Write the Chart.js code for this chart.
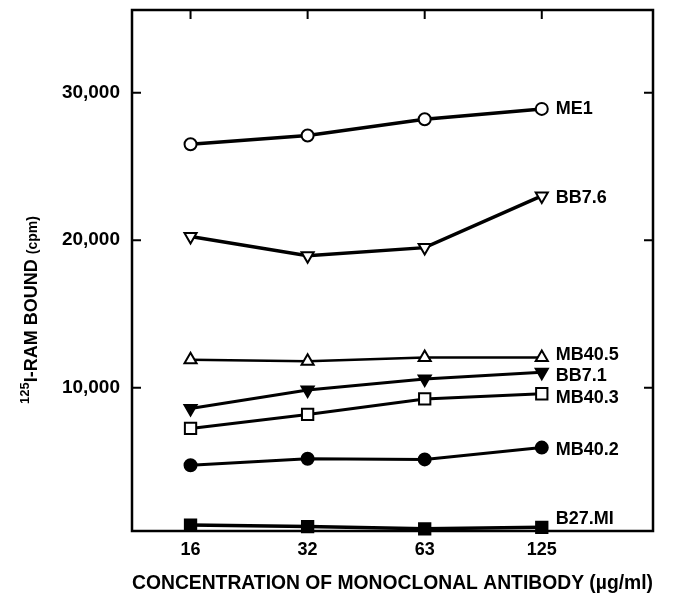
<!DOCTYPE html>
<html lang="en">
<head>
<meta charset="UTF-8">
<title>125I-RAM bound vs monoclonal antibody concentration</title>
<script src="https://cdn.jsdelivr.net/npm/chart.js"></script>
<style>
    body { margin: 0; background: #fff; }
    #wrap { width: 674px; height: 597px; }
</style>
</head>
<body>
<div id="wrap"><canvas id="chart" width="674" height="597"></canvas></div>
<script>
    // concentrations of monoclonal antibody (ug/ml)
    const concentrations = ['16', '32', '63', '125'];
    const yTicks = [10000, 20000, 30000];

    // 125I-RAM bound (cpm)
    const me1 = [26500, 27100, 28200, 28900];
    const bb76 = [20250, 18950, 19500, 23000];
    const mb405 = [11900, 11800, 12050, 12050];
    const bb71 = [8600, 9850, 10600, 11050];
    const mb403 = [7250, 8200, 9250, 9600];
    const mb402 = [4750, 5200, 5150, 5950];
    const b27mi = [700, 600, 450, 550];

    const seriesNames = ['ME1', 'BB7.6', 'MB40.5', 'BB7.1', 'MB40.3', 'MB40.2', 'B27.MI'];

    const FONT = '"Liberation Sans", Arial, sans-serif';

    function pts(arr) {
        return arr.map((v, i) => ({ x: i, y: v }));
    }

    function series(name, arr, shape, filled, rot, size, lw) {
        return {
            label: name,
            data: pts(arr),
            borderColor: '#000',
            borderWidth: lw,
            pointStyle: shape,
            pointRotation: rot,
            pointRadius: size,
            pointBorderWidth: 2,
            pointBorderColor: '#000',
            pointBackgroundColor: filled ? '#000' : '#fff',
            tension: 0,
            clip: false
        };
    }

    // small vertical nudges for the end labels
    const labelNudge = { 'ME1': 0, 'BB7.6': 2, 'MB40.5': -3, 'BB7.1': 4, 'MB40.3': 4, 'MB40.2': 2, 'B27.MI': -8 };

    const endLabels = {
        id: 'endLabels',
        afterDatasetsDraw(chart) {
            const ctx = chart.ctx;
            ctx.save();
            ctx.fillStyle = '#000';
            ctx.font = 'bold 18px ' + FONT;
            ctx.textBaseline = 'middle';
            chart.data.datasets.forEach((ds, i) => {
                const meta = chart.getDatasetMeta(i);
                const last = meta.data[meta.data.length - 1];
                ctx.fillText(ds.label, last.x + 14, last.y + (labelNudge[ds.label] || 0));
            });
            ctx.restore();
        }
    };

    const frame = {
        id: 'frame',
        afterDatasetsDraw(chart) {
            const ctx = chart.ctx;
            const a = chart.chartArea;
            const xs = chart.scales.x, ys = chart.scales.y;
            ctx.save();
            ctx.strokeStyle = '#000';
            ctx.lineWidth = 2.5;
            ctx.strokeRect(a.left, a.top, a.right - a.left, a.bottom - a.top);
            ctx.lineWidth = 2;
            ctx.beginPath();
            yTicks.forEach(v => {
                const y = ys.getPixelForValue(v);
                ctx.moveTo(a.left, y); ctx.lineTo(a.left + 9, y);
                ctx.moveTo(a.right, y); ctx.lineTo(a.right - 9, y);
            });
            concentrations.forEach((c, i) => {
                const x = xs.getPixelForValue(i);
                ctx.moveTo(x, a.top); ctx.lineTo(x, a.top + 9);
            });
            ctx.stroke();
            ctx.restore();
        }
    };

    const yTitle = {
        id: 'yTitle',
        afterDraw(chart) {
            const ctx = chart.ctx;
            const parts = [
                { t: '125', f: 'bold 13px ' + FONT, dy: -8 },
                { t: 'I-RAM BOUND ', f: 'bold 18px ' + FONT, dy: 0 },
                { t: '(cpm)', f: 'bold 14px ' + FONT, dy: 0 }
            ];
            ctx.save();
            let total = 0;
            parts.forEach(p => { ctx.font = p.f; p.w = ctx.measureText(p.t).width; total += p.w; });
            ctx.translate(37, 310);
            ctx.rotate(-Math.PI / 2);
            ctx.fillStyle = '#000';
            let x = -total / 2;
            parts.forEach(p => {
                ctx.font = p.f;
                ctx.fillText(p.t, x, p.dy);
                x += p.w;
            });
            ctx.restore();
        }
    };

    new Chart(document.getElementById('chart'), {
        type: 'line',
        data: {
            datasets: [
                series(seriesNames[0], me1, 'circle', false, 0, 6, 3.5),
                series(seriesNames[1], bb76, 'triangle', false, 180, 7, 3.5),
                series(seriesNames[2], mb405, 'triangle', false, 0, 7, 2.5),
                series(seriesNames[3], bb71, 'triangle', true, 180, 7, 3),
                series(seriesNames[4], mb403, 'rect', false, 0, 8, 3),
                series(seriesNames[5], mb402, 'circle', true, 0, 6, 3),
                series(seriesNames[6], b27mi, 'rect', true, 0, 8, 3.5)
            ]
        },
        options: {
            responsive: false,
            animation: false,
            layout: { padding: { top: 6, right: 21, left: 0, bottom: 0 } },
            plugins: { legend: { display: false }, tooltip: { enabled: false } },
            scales: {
                x: {
                    type: 'linear',
                    min: -0.5,
                    max: 3.95,
                    afterBuildTicks: s => { s.ticks = concentrations.map((c, i) => ({ value: i })); },
                    afterFit: s => { s.height = 66; s.paddingLeft = 0; s.paddingRight = 0; },
                    grid: { display: false },
                    border: { display: false },
                    ticks: {
                        callback: v => concentrations[v],
                        color: '#000',
                        font: { family: FONT, size: 18, weight: 'bold' },
                        padding: 0,
                        maxRotation: 0
                    },
                    title: {
                        display: true,
                        text: 'CONCENTRATION OF MONOCLONAL ANTIBODY (\u00b5g/ml)',
                        color: '#000',
                        font: { family: FONT, size: 21, weight: 'bold' },
                        padding: { top: 0, bottom: 1 }
                    }
                },
                y: {
                    min: 300,
                    max: 35600,
                    afterBuildTicks: s => { s.ticks = yTicks.map(v => ({ value: v })); },
                    afterFit: s => { s.width = 132; s.paddingTop = 0; s.paddingBottom = 0; },
                    grid: { display: false },
                    border: { display: false },
                    ticks: {
                        callback: v => v.toLocaleString('en-US'),
                        color: '#000',
                        font: { family: FONT, size: 19, weight: 'bold' },
                        padding: 4
                    }
                }
            }
        },
        plugins: [frame, endLabels, yTitle]
    });
</script>
</body>
</html>
